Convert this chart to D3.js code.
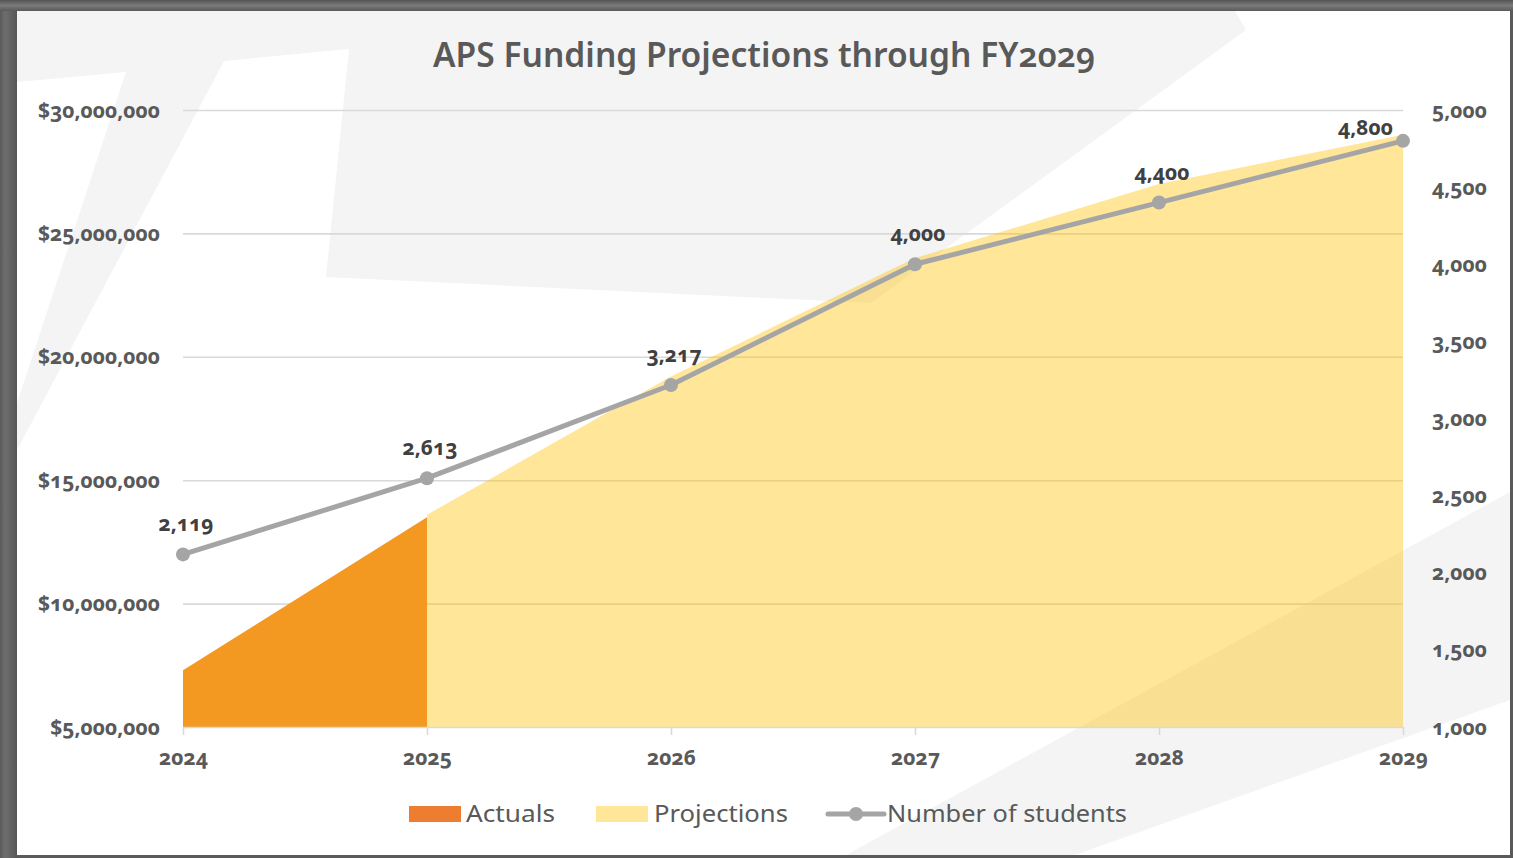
<!DOCTYPE html>
<html>
<head>
<meta charset="utf-8">
<script src="https://cdn.jsdelivr.net/npm/d3@7"></script>
<style>
  html, body { margin: 0; padding: 0; background: #fff; }
  svg { display: block; }
  text { font-family: "Noto Sans", "Open Sans", sans-serif; font-variant-numeric: oldstyle-nums; font-feature-settings: "onum" 1; }
</style>
</head>
<body>
<svg id="chart" width="1513" height="858"></svg>
<script>
// ---------- data ----------
const years = [2024, 2025, 2026, 2027, 2028, 2029];
const actuals = [7300000, 13500000, null, null, null, null];
const projections = [null, 13600000, 19200000, 24000000, 27000000, 29000000];
const students = [2119, 2613, 3217, 4000, 4400, 4800];
const leftTicks = [5000000, 10000000, 15000000, 20000000, 25000000, 30000000];
const rightTicks = [1000, 1500, 2000, 2500, 3000, 3500, 4000, 4500, 5000];
const title = "APS Funding Projections through FY2029";
const legendLabels = ["Actuals", "Projections", "Number of students"];

// ---------- layout ----------
const W = 1513, H = 858;
const plot = { left: 183, right: 1403, top: 110, bottom: 727 };
const svg = d3.select("#chart");

// frame & decorative background
svg.append("rect").attr("x", 0).attr("y", 0).attr("width", W).attr("height", H).attr("fill", "#5a5a5a");
const defs = svg.append("defs");
const gTop = defs.append("linearGradient").attr("id", "gtop").attr("x1", 0).attr("y1", 0).attr("x2", 0).attr("y2", 1);
gTop.append("stop").attr("offset", 0).attr("stop-color", "#555");
gTop.append("stop").attr("offset", 0.5).attr("stop-color", "#7a7a7a");
gTop.append("stop").attr("offset", 1).attr("stop-color", "#5a5a5a");
svg.append("rect").attr("x", 0).attr("y", 0).attr("width", W).attr("height", 11).attr("fill", "url(#gtop)");
const gLeft = defs.append("linearGradient").attr("id", "gleft").attr("x1", 0).attr("y1", 0).attr("x2", 1).attr("y2", 0);
gLeft.append("stop").attr("offset", 0).attr("stop-color", "#5a5a5a");
gLeft.append("stop").attr("offset", 0.3).attr("stop-color", "#6e6e6e");
gLeft.append("stop").attr("offset", 1).attr("stop-color", "#575757");
svg.append("rect").attr("x", 0).attr("y", 11).attr("width", 17).attr("height", H - 11).attr("fill", "url(#gleft)");

svg.append("rect").attr("x", 17).attr("y", 11).attr("width", 1493).attr("height", 844).attr("fill", "#ffffff");

const deco = svg.append("g").attr("fill", "#f4f4f4");
deco.append("polygon").attr("points", "17,11 1235,11 1246,30 871,303 326,277 349,49 224,61 126,72 17,82");
deco.append("polygon").attr("points", "126,72 224,61 17,450 17,403");
deco.append("polygon").attr("points", "846,855 1510,492 1510,700 1075,855");

// ---------- scales ----------
const x = d3.scalePoint().domain(years).range([plot.left, plot.right]);
const yL = d3.scaleLinear().domain([5000000, 30000000]).range([plot.bottom, plot.top]);
const yR = d3.scaleLinear().domain([1000, 5000]).range([plot.bottom, plot.top]);

// gridlines
svg.append("g")
  .attr("transform", `translate(${plot.left},0)`)
  .call(d3.axisLeft(yL).tickValues(leftTicks.slice(1)).tickSize(-(plot.right - plot.left)).tickFormat(""))
  .call(g => g.select(".domain").remove())
  .call(g => g.selectAll(".tick line").attr("stroke", "#d9d9d9").attr("stroke-width", 1.6));

// ---------- areas ----------
const idx = years.map((d, i) => i);
const areaFor = vals => d3.area()
  .defined(i => vals[i] != null)
  .x(i => x(years[i]))
  .y0(yL(5000000))
  .y1(i => yL(vals[i]));

svg.append("path").datum(idx).attr("d", areaFor(projections))
  .attr("fill", "#ffc000").attr("fill-opacity", 0.4);
svg.append("path").datum(idx).attr("d", areaFor(actuals))
  .attr("fill", "#f39820");

// x axis
const xAxis = svg.append("g")
  .attr("transform", `translate(0,${plot.bottom})`)
  .call(d3.axisBottom(x).tickSize(8).tickSizeOuter(0).tickPadding(0));
xAxis.select(".domain").attr("stroke", "#d9d9d9").attr("stroke-width", 1.6);
xAxis.selectAll(".tick line").attr("stroke", "#d9d9d9").attr("stroke-width", 1.6);
xAxis.selectAll(".tick text").attr("y", 38).attr("dy", 0)
  .attr("fill", "#595959").attr("font-size", 21).attr("font-weight", 700);

// left axis labels
const lAxis = svg.append("g")
  .attr("transform", `translate(${plot.left},0)`)
  .call(d3.axisLeft(yL).tickValues(leftTicks).tickSize(0).tickPadding(23).tickFormat(d3.format("$,")));
lAxis.select(".domain").remove();
lAxis.selectAll(".tick text").attr("dy", 7)
  .attr("fill", "#595959").attr("font-size", 21).attr("font-weight", 700);

// right axis labels
const rAxis = svg.append("g")
  .attr("transform", `translate(${plot.right},0)`)
  .call(d3.axisRight(yR).tickValues(rightTicks).tickSize(0).tickPadding(29).tickFormat(d3.format(",")));
rAxis.select(".domain").remove();
rAxis.selectAll(".tick text").attr("dy", 7)
  .attr("fill", "#595959").attr("font-size", 21).attr("font-weight", 700);
svg.selectAll("g[font-family]").attr("font-family", null);

// ---------- line ----------
svg.append("path").datum(idx)
  .attr("d", d3.line().x(i => x(years[i])).y(i => yR(students[i])))
  .attr("fill", "none").attr("stroke", "#a5a5a5").attr("stroke-width", 5).attr("stroke-linejoin", "round");
svg.append("g").selectAll("circle").data(idx).join("circle")
  .attr("cx", i => x(years[i])).attr("cy", i => yR(students[i])).attr("r", 7)
  .attr("fill", "#a5a5a5");

// data labels
const fmt = d3.format(",");
svg.append("g").selectAll("text").data(idx).join("text")
  .attr("x", i => i === years.length - 1 ? x(years[i]) - 10 : x(years[i]) + 3)
  .attr("y", i => i === years.length - 1 ? yR(students[i]) - 6 : yR(students[i]) - 23)
  .attr("text-anchor", i => i === years.length - 1 ? "end" : "middle")
  .attr("fill", "#404040").attr("font-size", 21).attr("font-weight", 700)
  .text(i => fmt(students[i]));

// ---------- title ----------
svg.append("text").attr("x", 764).attr("y", 67).attr("text-anchor", "middle")
  .attr("fill", "#595959").attr("font-size", 34).attr("font-weight", 600)
  .attr("textLength", 662).attr("lengthAdjust", "spacingAndGlyphs")
  .text(title);

// ---------- legend ----------
const lg = svg.append("g");
lg.append("rect").attr("x", 409).attr("y", 806).attr("width", 52).attr("height", 16).attr("fill", "#ed7d31");
lg.append("text").attr("x", 466).attr("y", 822).attr("fill", "#595959").attr("font-size", 24)
  .attr("textLength", 89).attr("lengthAdjust", "spacingAndGlyphs").text(legendLabels[0]);
lg.append("rect").attr("x", 596).attr("y", 806).attr("width", 52).attr("height", 16).attr("fill", "#ffe699");
lg.append("text").attr("x", 654).attr("y", 822).attr("fill", "#595959").attr("font-size", 24)
  .attr("textLength", 134).attr("lengthAdjust", "spacingAndGlyphs").text(legendLabels[1]);
lg.append("line").attr("x1", 828).attr("x2", 884).attr("y1", 814).attr("y2", 814)
  .attr("stroke", "#a5a5a5").attr("stroke-width", 5).attr("stroke-linecap", "round");
lg.append("circle").attr("cx", 856).attr("cy", 814).attr("r", 7).attr("fill", "#a5a5a5");
lg.append("text").attr("x", 887).attr("y", 822).attr("fill", "#595959").attr("font-size", 24)
  .attr("textLength", 240).attr("lengthAdjust", "spacingAndGlyphs").text(legendLabels[2]);
</script>
</body>
</html>
